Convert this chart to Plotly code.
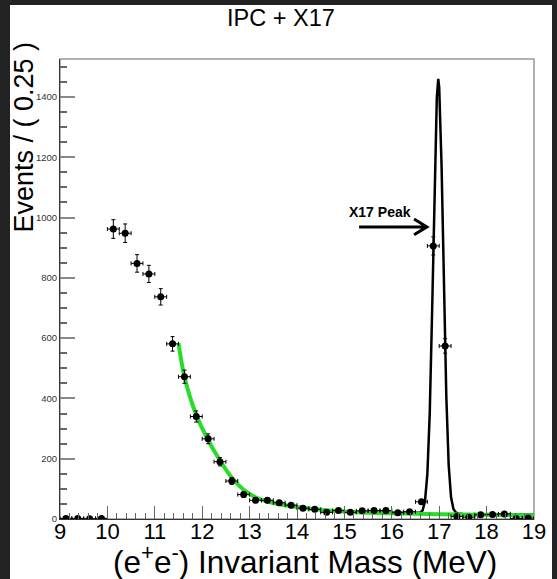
import numpy as np
import plotly.graph_objects as go

# ---------------- data ----------------
bin_centers = [9.125, 9.375, 9.625, 9.875, 10.125, 10.375, 10.625, 10.875, 11.125, 11.375,
               11.625, 11.875, 12.125, 12.375, 12.625, 12.875, 13.125, 13.375, 13.625, 13.875,
               14.125, 14.375, 14.625, 14.875, 15.125, 15.375, 15.625, 15.875, 16.125, 16.375,
               16.625, 16.875, 17.125, 17.375, 17.625, 17.875, 18.125, 18.375, 18.625, 18.875]
counts = [2, 2, 1, 2, 962, 948, 848, 813, 737, 581,
          472, 340, 266, 190, 126, 81, 62, 62, 54, 46,
          36, 32, 22, 28, 22, 27, 28, 28, 21, 24,
          57, 906, 574, 8, 6, 14, 15, 17, 2, 3]
bin_half_width = 0.125

# exponential (IPC) fit curve
ipc_x = [11.5, 11.625, 11.875, 12.125, 12.375, 12.625, 12.875, 13.125, 13.5, 14.0,
         14.5, 15.0, 15.5, 16.0, 17.0, 18.0, 19.0]
ipc_y = [583, 472, 345, 262, 194, 137, 97, 72, 53, 40,
         31, 25, 21, 19, 16, 14, 12]

# IPC + X17 total fit curve
tot_x = [15.5, 16.0, 16.5, 16.55, 16.6, 16.65, 16.7, 16.75, 16.8, 16.85, 16.9, 16.95, 16.98,
         17.0, 17.05, 17.1, 17.15, 17.2, 17.25, 17.3, 17.35, 17.4, 17.5, 18.0, 18.5, 19.0]
tot_y = [23, 21, 19, 20, 21, 29, 59, 149, 348, 686, 1094, 1400, 1460,
         1432, 1172, 768, 407, 179, 72, 33, 22, 18, 17, 16, 15, 14]

x_ticks = [9, 10, 11, 12, 13, 14, 15, 16, 17, 18, 19]
y_ticks = [0, 200, 400, 600, 800, 1000, 1200, 1400]

title_text = "IPC + X17"
x_title = "(e<sup>+</sup>e<sup>-</sup>) Invariant Mass (MeV)"
y_title = "Events / ( 0.25 )"
peak_label = "<b>X17 Peak</b>"

errors = [float(np.sqrt(c)) for c in counts]

FONT = "Liberation Sans, Arial, Helvetica, sans-serif"

fig = go.Figure()

fig.add_trace(go.Scatter(x=tot_x, y=tot_y, mode="lines",
                         line=dict(color="black", width=2.5), hoverinfo="skip"))
fig.add_trace(go.Scatter(x=ipc_x, y=ipc_y, mode="lines",
                         line=dict(color="rgb(40,220,40)", width=4, shape="spline", smoothing=0.8),
                         hoverinfo="skip"))
fig.add_trace(go.Scatter(
    x=bin_centers, y=counts, mode="markers",
    marker=dict(color="black", size=7, symbol="circle"),
    error_y=dict(type="data", array=errors, color="black", thickness=1, width=2),
    error_x=dict(type="constant", value=bin_half_width, color="black", thickness=1, width=2),
))

W, H = 557, 579
L, R, T, B = 60, 23, 59, 60
pw, ph = W - L - R, H - T - B


def px_x(px):
    return (px - L) / pw


def px_y(py):
    return (H - B - py) / ph


shapes = [
    # white canvas inside the dark border
    dict(type="rect", xref="paper", yref="paper", layer="below",
         x0=px_x(10), x1=px_x(552), y0=px_y(579), y1=px_y(5),
         fillcolor="white", line=dict(width=0)),
    # frame
    dict(type="rect", xref="paper", yref="paper", layer="below",
         x0=0, x1=1, y0=0, y1=1, line=dict(color="#999999", width=1.5)),
    # arrow
    dict(type="path", xref="x", yref="y",
         path="M 15.31,969 L 16.74,969 M 16.47,995 L 16.74,969 L 16.47,943",
         line=dict(color="black", width=3)),
]

annotations = [
    dict(text=title_text, xref="paper", yref="paper", x=px_x(281), y=px_y(18),
         xanchor="center", yanchor="middle", showarrow=False,
         font=dict(size=23.5, color="black", family=FONT)),
    dict(text=x_title, xref="paper", yref="paper", x=px_x(499), y=px_y(560),
         xanchor="right", yanchor="middle", showarrow=False,
         font=dict(size=31.5, color="black", family=FONT)),
    dict(text=y_title, xref="paper", yref="paper", x=px_x(24), y=px_y(40),
         xanchor="center", yanchor="top", textangle=-90, showarrow=False,
         font=dict(size=27, color="black", family=FONT)),
    dict(text=peak_label, xref="x", yref="y", x=15.75, y=1019,
         xanchor="center", yanchor="middle", showarrow=False,
         font=dict(size=14, color="black", family=FONT)),
]

fig.update_layout(
    width=W, height=H,
    margin=dict(l=L, r=R, t=T, b=B),
    paper_bgcolor="#222222",
    plot_bgcolor="rgba(0,0,0,0)",
    showlegend=False,
    font=dict(family=FONT, color="black"),
    shapes=shapes,
    annotations=annotations,
    xaxis=dict(range=[9, 19], showgrid=False, zeroline=False,
               showline=True, linecolor="#333333", linewidth=1,
               ticks="inside", ticklen=13, tickcolor="#666666", tickwidth=1,
               tickvals=x_ticks, ticktext=[str(v) for v in x_ticks],
               tickfont=dict(size=22, color="black", family=FONT),
               ticklabelstandoff=-7,
               minor=dict(ticks="inside", dtick=0.2, ticklen=6, tickcolor="#666666")),
    yaxis=dict(range=[0, 1526], showgrid=False, zeroline=False,
               showline=True, linecolor="#333333", linewidth=1,
               ticks="inside", ticklen=15, tickcolor="#888888", tickwidth=1.5,
               tickvals=y_ticks, ticktext=[str(v) for v in y_ticks],
               tickfont=dict(size=9.5, color="#333333", family=FONT),
               ticklabelstandoff=0,
               minor=dict(ticks="inside", dtick=50, ticklen=7, tickcolor="#666666")),
)

fig.write_html("out.html")
